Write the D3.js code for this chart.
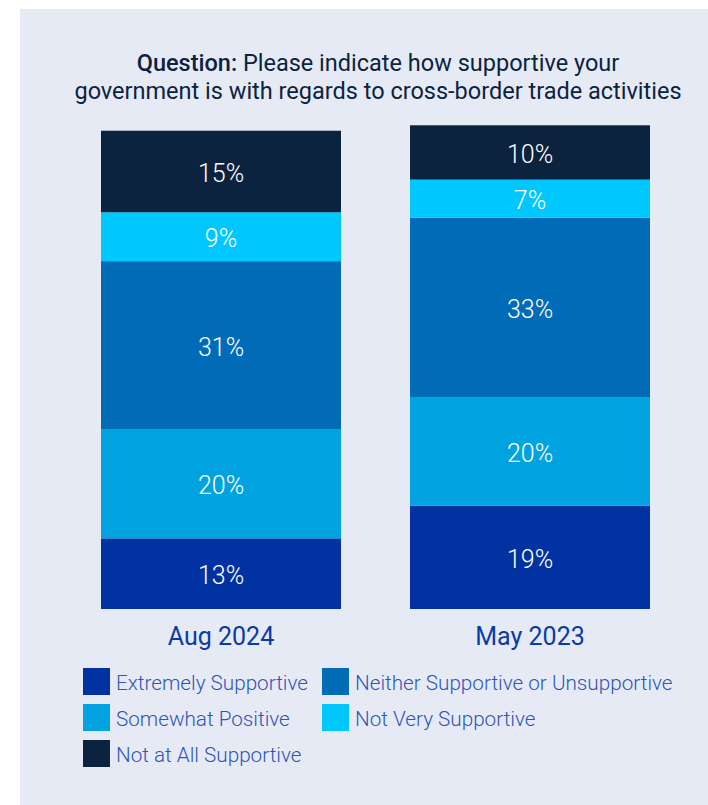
<!DOCTYPE html>
<html>
<head>
<meta charset="utf-8">
<script src="https://cdn.jsdelivr.net/npm/d3@7"></script>
<style>
  html, body { margin: 0; padding: 0; background: #ffffff; }
  svg { display: block; font-family: Roboto, "Noto Sans", sans-serif; }
</style>
</head>
<body>
<svg id="chart" width="708" height="805"></svg>
<script>
// Survey periods (x categories)
const categories = ["Aug 2024", "May 2023"];

// Share of respondents per answer, in percent, one value per period
const extremelySupportive = [13, 19];
const somewhatPositive = [20, 20];
const neitherSupportive = [31, 33];
const notVerySupportive = [9, 7];
const notAtAllSupportive = [15, 10];

// Series names, stacked bottom to top
const seriesNames = [
  "Extremely Supportive",
  "Somewhat Positive",
  "Neither Supportive or Unsupportive",
  "Not Very Supportive",
  "Not at All Supportive"
];
const seriesValues = [
  extremelySupportive,
  somewhatPositive,
  neitherSupportive,
  notVerySupportive,
  notAtAllSupportive
];

// Legend order (row by row, two columns)
const legendOrder = [
  "Extremely Supportive",
  "Neither Supportive or Unsupportive",
  "Somewhat Positive",
  "Not Very Supportive",
  "Not at All Supportive"
];

const colors = {
  "Extremely Supportive": "#0033a1",
  "Somewhat Positive": "#00a3e0",
  "Neither Supportive or Unsupportive": "#006bb6",
  "Not Very Supportive": "#00c8ff",
  "Not at All Supportive": "#0c2340"
};

const svg = d3.select("#chart");

// Panel background
svg.append("rect")
  .attr("x", 20).attr("y", 9)
  .attr("width", 688).attr("height", 796)
  .attr("fill", "#e6eaf5");

// Title
const title = svg.append("text")
  .attr("text-anchor", "middle")
  .attr("fill", "#0c2340")
  .attr("font-size", 23.5);
const l1 = title.append("tspan").attr("x", 378).attr("y", 71);
l1.append("tspan").attr("font-weight", 500).text("Question:");
l1.append("tspan").text(" Please indicate how supportive your");
title.append("tspan").attr("x", 378).attr("y", 99)
  .text("government is with regards to cross-border trade activities");

// Build table for the stack
const table = categories.map((c, i) => {
  const row = { category: c };
  seriesNames.forEach((s, k) => { row[s] = seriesValues[k][i]; });
  return row;
});
const stacked = d3.stack().keys(seriesNames)(table);

const x = d3.scaleBand()
  .domain(categories)
  .range([101, 650])
  .paddingInner(69 / 309)
  .paddingOuter(0);

const y = d3.scaleLinear()
  .domain([0, 100])
  .range([609, 65.5]);

const layers = svg.append("g").selectAll("g")
  .data(stacked)
  .join("g")
  .attr("fill", d => colors[d.key]);

layers.selectAll("rect")
  .data(d => d.map(p => ({ key: d.key, p })))
  .join("rect")
  .attr("x", d => x(d.p.data.category))
  .attr("width", x.bandwidth())
  .attr("y", d => y(d.p[1]))
  .attr("height", d => y(d.p[0]) - y(d.p[1]));

// Value labels inside segments
layers.selectAll("text")
  .data(d => d.map(p => ({ key: d.key, p })))
  .join("text")
  .attr("x", d => x(d.p.data.category) + x.bandwidth() / 2)
  .attr("y", d => (y(d.p[0]) + y(d.p[1])) / 2 + 1.5)
  .attr("dy", "0.35em")
  .attr("text-anchor", "middle")
  .attr("fill", "#ffffff")
  .attr("font-size", 25)
  .attr("font-weight", 300)
  .text(d => (d.p[1] - d.p[0]) + "%");

// Category axis (labels only)
const xAxis = svg.append("g")
  .attr("transform", "translate(0,609)")
  .call(d3.axisBottom(x).tickSize(0).tickPadding(0));
xAxis.select(".domain").remove();
xAxis.selectAll("text")
  .attr("y", 36)
  .attr("dy", 0)
  .attr("fill", "#0a3aa8")
  .attr("font-size", 25)
  .attr("font-family", "Roboto, sans-serif");

// Legend
const legend = svg.append("g");
const legendItems = legend.selectAll("g")
  .data(legendOrder)
  .join("g")
  .attr("transform", (d, i) => `translate(${i % 2 === 0 ? 83 : 322},${668 + Math.floor(i / 2) * 36})`);
legendItems.append("rect")
  .attr("width", 27).attr("height", 27)
  .attr("fill", d => colors[d]);
legendItems.append("text")
  .attr("x", 33)
  .attr("y", 22)
  .attr("fill", "#2f55b8")
  .attr("font-size", 20.7)
  .attr("font-weight", 300)
  .text(d => d);
</script>
</body>
</html>
